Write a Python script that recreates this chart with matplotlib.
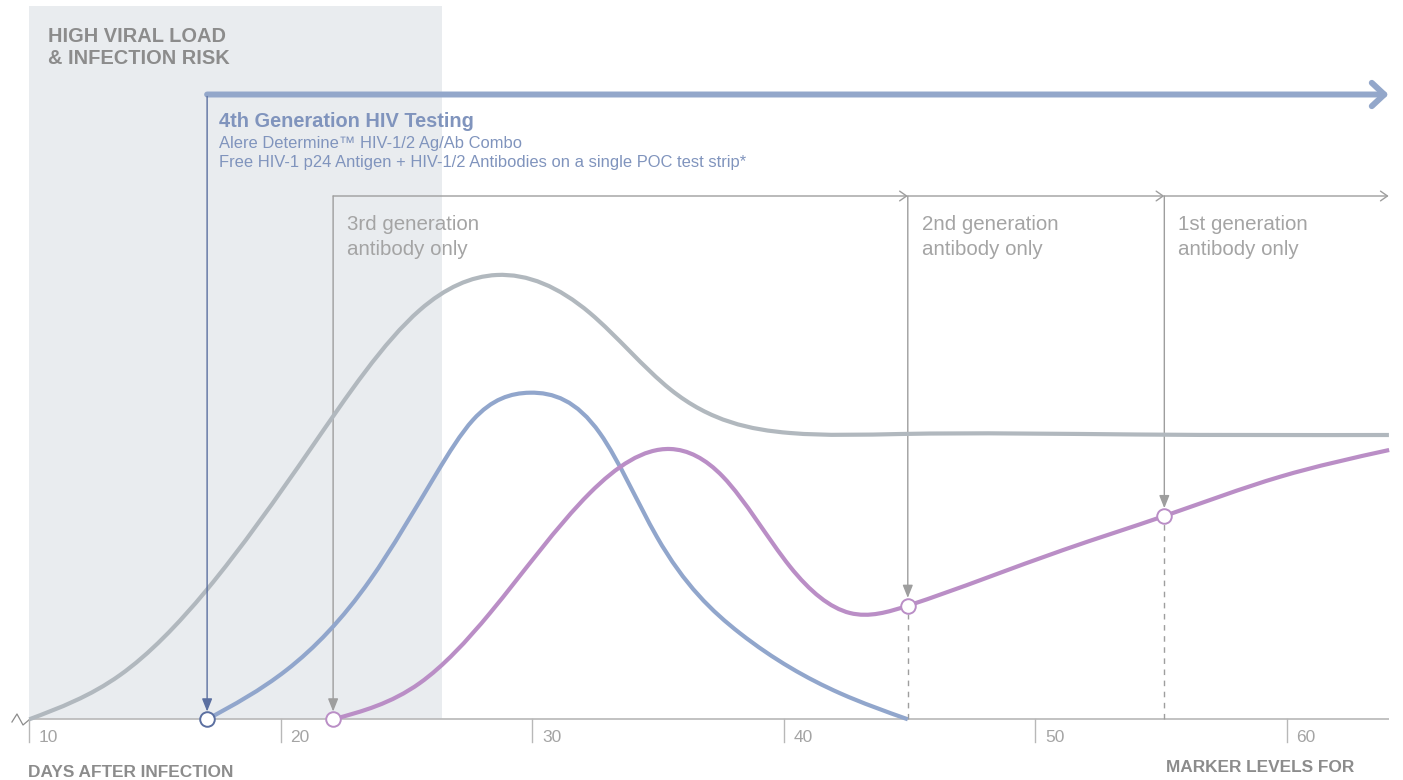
import matplotlib
matplotlib.use("Agg")
import matplotlib.pyplot as plt
import numpy as np
from matplotlib.path import Path
from matplotlib.patches import PathPatch

plt.rcParams['font.family'] = ['Liberation Sans', 'DejaVu Sans']

# ---------------- data ----------------
days_ticks = [10, 20, 30, 40, 50, 60]

rna_days = [10, 13.61, 17.05, 21.2, 25.53, 28.58, 32.29, 35.5, 40.25, 44.62, 54.0, 64.06]
rna_level = [0, 0.443, 1.293, 2.71, 4.093, 4.443, 4.063, 3.297, 2.863, 2.853, 2.848, 2.843]

p24_days = [17.07, 20.23, 23.55, 26.2, 27.64, 29.9, 32.69, 34.95, 38.26, 42.24, 44.93]
p24_level = [0, 0.493, 1.393, 2.463, 2.993, 3.266, 2.86, 1.826, 0.86, 0.26, 0]

ab_days = [22.08, 25.53, 28.32, 32.29, 35.48, 37.58, 40.25, 42.63, 44.93, 51.11,
           55.13, 59.74, 64.07]
ab_level = [0, 0.363, 1.063, 2.263, 2.703, 2.426, 1.526, 1.063, 1.136, 1.693,
            2.033, 2.426, 2.693]

test_days = [17.07, 22.08, 44.93, 55.13]        # 4th, 3rd, 2nd, 1st generation
test_levels = [0, 0, 1.136, 2.033]
risk_window = [10, 26.4]
gen_labels = ["3rd generation\nantibody only", "2nd generation\nantibody only",
              "1st generation\nantibody only"]

# ---------------- style ----------------
C_GRAY = '#B1B8BE'
C_BLUE = '#91A6CC'
C_PURP = '#BA8EC6'
C_DBLUE = '#5B6FA0'
C_LINE = '#9E9E9E'
C_AXIS = '#B8B8B8'
C_TXT = '#A4A4A4'
C_HEAD = '#8C8C8C'
C_BTXT = '#8094BD'


def smooth_curve(ax, xs, ys, **kw):
    """Render the read points as a smooth (C2 cubic spline) path, drawn as Bezier segments."""
    n = len(xs)
    h = [xs[i + 1] - xs[i] for i in range(n - 1)]
    d = [(ys[i + 1] - ys[i]) / h[i] for i in range(n - 1)]
    A = np.zeros((n, n))
    b = np.zeros(n)
    A[0, 0], A[0, 1], b[0] = 2.0, 1.0, 3 * d[0]
    A[-1, -2], A[-1, -1], b[-1] = 1.0, 2.0, 3 * d[-1]
    for i in range(1, n - 1):
        A[i, i - 1] = h[i]
        A[i, i] = 2 * (h[i - 1] + h[i])
        A[i, i + 1] = h[i - 1]
        b[i] = 3 * (h[i] * d[i - 1] + h[i - 1] * d[i])
    m = np.linalg.solve(A, b)
    verts = [(xs[0], ys[0])]
    codes = [Path.MOVETO]
    for i in range(n - 1):
        verts += [(xs[i] + h[i] / 3, ys[i] + m[i] * h[i] / 3),
                  (xs[i + 1] - h[i] / 3, ys[i + 1] - m[i + 1] * h[i] / 3),
                  (xs[i + 1], ys[i + 1])]
        codes += [Path.CURVE4] * 3
    ax.add_patch(PathPatch(Path(verts, codes), fill=False, capstyle='butt', joinstyle='round', **kw))


fig = plt.figure(figsize=(14.03, 7.80), dpi=100)
ax = fig.add_axes([0, 0, 1, 1])
ax.set_xlim(8.835, 64.62)
ax.set_ylim(-0.607, 7.193)
ax.axis('off')

x_end = 64.05
y_top = 7.13
y_big = 6.248
y_br = 5.233

# shaded risk window
ax.fill_between(risk_window, 0, y_top, color='#E9ECEF', lw=0, zorder=0)

# baseline, ticks, break symbol
ax.plot([10, x_end], [0, 0], color=C_AXIS, lw=1.2, zorder=1, solid_capstyle='butt')
ax.plot([9.31, 9.51, 9.75, 10.03], [-0.027, 0.053, -0.057, 0.003], color='#8C8C8C', lw=0.9, zorder=1)
for d in days_ticks:
    ax.plot([d, d], [0, -0.224], color=C_AXIS, lw=1.0, zorder=1)
    ax.text(d + 0.38, -0.23, str(d), color=C_TXT, fontsize=12.5, ha='left', va='baseline')

ax.text(9.96, -0.577, "DAYS AFTER INFECTION", color=C_HEAD, fontsize=12.4, fontweight='bold',
        ha='left', va='baseline')
ax.text(55.18, -0.527, "MARKER LEVELS FOR", color=C_HEAD, fontsize=12.4, fontweight='bold',
        ha='left', va='baseline')

# header
ax.text(10.76, 6.776, "HIGH VIRAL LOAD", color=C_HEAD, fontsize=14.4, fontweight='bold', ha='left', va='baseline')
ax.text(10.76, 6.553, "& INFECTION RISK", color=C_HEAD, fontsize=14.4, fontweight='bold', ha='left', va='baseline')

# curves
smooth_curve(ax, rna_days, rna_level, edgecolor=C_GRAY, lw=3.0, zorder=3)
smooth_curve(ax, p24_days, p24_level, edgecolor=C_BLUE, lw=3.0, zorder=3)
smooth_curve(ax, ab_days, ab_level, edgecolor=C_PURP, lw=3.0, zorder=3)

# 4th generation big arrow
ax.annotate("", xy=(x_end, y_big), xytext=(test_days[0], y_big),
            arrowprops=dict(arrowstyle='->, head_length=0.45, head_width=0.42', color='#93A7CA',
                            lw=4.3, shrinkA=0, shrinkB=0, mutation_scale=20), zorder=4)
ax.annotate("", xy=(test_days[0], 0.078), xytext=(test_days[0], y_big - 0.02),
            arrowprops=dict(arrowstyle='-|>, head_length=0.55, head_width=0.22', color=C_DBLUE,
                            lw=1.0, shrinkA=0, shrinkB=0, mutation_scale=14), zorder=4)
ax.text(17.55, 5.926, "4th Generation HIV Testing", color=C_BTXT, fontsize=14.4, fontweight='bold',
        ha='left', va='baseline')
ax.text(17.55, 5.711, "Alere Determine\u2122 HIV-1/2 Ag/Ab Combo", color=C_BTXT, fontsize=11.9,
        ha='left', va='baseline')
ax.text(17.55, 5.52, "Free HIV-1 p24 Antigen + HIV-1/2 Antibodies on a single POC test strip*",
        color=C_BTXT, fontsize=11.9, ha='left', va='baseline')

# antibody-only generations bracket
seg_starts = test_days[1:]
seg_ends = test_days[2:] + [x_end]
for s, e in zip(seg_starts, seg_ends):
    ax.annotate("", xy=(e, y_br), xytext=(s, y_br),
                arrowprops=dict(arrowstyle='->, head_length=0.5, head_width=0.35', color=C_LINE,
                                lw=1.0, shrinkA=0, shrinkB=0, mutation_scale=10), zorder=2)
for d, lev, lab in zip(test_days[1:], test_levels[1:], gen_labels):
    ax.annotate("", xy=(d, lev + 0.078), xytext=(d, y_br),
                arrowprops=dict(arrowstyle='-|>, head_length=0.55, head_width=0.22', color=C_LINE,
                                lw=1.0, shrinkA=0, shrinkB=0, mutation_scale=14), zorder=2)
    if lev > 0:
        ax.plot([d, d], [0, lev - 0.078], color=C_LINE, lw=1.0, ls=(0, (4, 4)), zorder=2)
    l1, l2 = lab.split("\n")
    ax.text(d + 0.55, 4.888, l1, color=C_TXT, fontsize=14.8, ha='left', va='baseline')
    ax.text(d + 0.55, 4.643, l2, color=C_TXT, fontsize=14.8, ha='left', va='baseline')

# markers
edge_cols = [C_DBLUE, C_PURP, C_PURP, C_PURP]
for d, lev, ec in zip(test_days, test_levels, edge_cols):
    ax.plot([d], [lev], marker='o', ms=10.5, mfc='white', mec=ec, mew=1.4, zorder=6)

fig.savefig("out.png", dpi=100)
